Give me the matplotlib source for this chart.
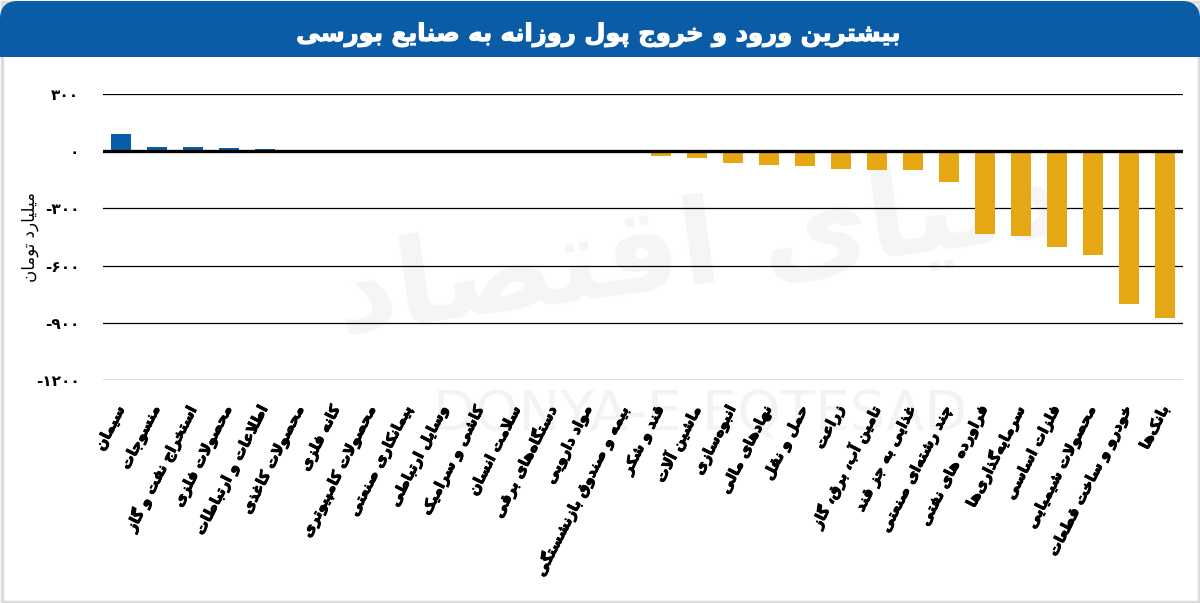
import matplotlib
matplotlib.use("Agg")
import matplotlib.pyplot as plt
import matplotlib.patheffects as pe
from matplotlib.patches import FancyBboxPatch, Rectangle
from matplotlib.transforms import IdentityTransform
from matplotlib.ticker import FuncFormatter, FixedLocator

# data (billion toman)
categories = [
    "سیمان", "منسوجات", "استخراج نفت و گاز", "محصولات فلزی", "اطلاعات و ارتباطات",
    "محصولات کاغذی", "کانه فلزی", "محصولات کامپیوتری", "پیمانکاری صنعتی", "وسایل ارتباطی",
    "کاشی و سرامیک", "سلامت انسان", "دستگاه\u200cهای برقی", "مواد دارویی",
    "بیمه و صندوق بازنشستگی", "قند و شکر", "ماشین آلات", "انبوه\u200cسازی",
    "نهادهای مالی", "حمل و نقل", "زراعت", "تامین آب، برق، گاز", "غذایی به جز قند",
    "چند رشته\u200cای صنعتی", "فراورده های نفتی", "سرمایه\u200cگذاری\u200cها", "فلزات اساسی",
    "محصولات شیمیایی", "خودرو و ساخت قطعات", "بانک\u200cها",
]
values = [
    90, 20, 20, 15, 9, 8, 7, 3, 2, 1,
    1, -1, -1, -2, -3, -23, -35, -60, -72, -77,
    -93, -98, -98, -160, -432, -447, -500, -547, -800, -874,
]
yticks = [300, 0, -300, -600, -900, -1200]

title = "بیشترین ورود و خروج پول روزانه به صنایع بورسی"
ylabel = "میلیارد تومان"

BLUE = "#0A5CA6"
GOLD = "#E6A812"

# --- minimal arabic/persian shaping (matplotlib has no text shaping) ---
DUAL = {'ب': 0xFE8F, 'ت': 0xFE95, 'ث': 0xFE99, 'ج': 0xFE9D, 'ح': 0xFEA1, 'خ': 0xFEA5,
        'س': 0xFEB1, 'ش': 0xFEB5, 'ص': 0xFEB9, 'ض': 0xFEBD, 'ط': 0xFEC1, 'ظ': 0xFEC5,
        'ع': 0xFEC9, 'غ': 0xFECD, 'ف': 0xFED1, 'ق': 0xFED5, 'ل': 0xFEDD, 'م': 0xFEE1,
        'ن': 0xFEE5, 'ه': 0xFEE9, 'ی': 0xFBFC, 'ي': 0xFEF1, 'پ': 0xFB56, 'چ': 0xFB7A,
        'ک': 0xFB8E, 'گ': 0xFB92}
RIGHT = {'ا': 0xFE8D, 'آ': 0xFE81, 'د': 0xFEA9, 'ذ': 0xFEAB, 'ر': 0xFEAD, 'ز': 0xFEAF,
         'و': 0xFEED, 'ژ': 0xFB8A}
LAMALEF = {'ا': 0xFEFB, 'آ': 0xFEF5}


def shape(text):
    out = []
    i, n = 0, len(text)
    while i < n:
        c = text[i]
        prev = text[i - 1] if i > 0 else ''
        nxt = text[i + 1] if i + 1 < n else ''
        if c == '\u200c':
            i += 1
            continue
        jp = prev in DUAL
        if c == 'ل' and nxt in LAMALEF:
            out.append(chr(LAMALEF[nxt] + (1 if jp else 0)))
            i += 2
            continue
        if c in DUAL:
            jn = nxt in DUAL or nxt in RIGHT
            off = {(False, False): 0, (True, False): 1, (False, True): 2, (True, True): 3}[(jp, jn)]
            out.append(chr(DUAL[c] + off))
        elif c in RIGHT:
            out.append(chr(RIGHT[c] + (1 if jp else 0)))
        else:
            out.append(c)
        i += 1
    return ''.join(reversed(out))


FA_DIGITS = str.maketrans("0123456789", "۰۱۲۳۴۵۶۷۸۹")


def fa_num(v, pos=None):
    return str(int(v)).translate(FA_DIGITS)


plt.rcParams['font.family'] = ['DejaVu Sans']

W, H = 1200, 603
fig = plt.figure(figsize=(W / 100, H / 100), dpi=100)
px = IdentityTransform()
heavy = [pe.withStroke(linewidth=0.7, foreground="black")]

# frame + title banner
fig.patches.append(Rectangle((1.5, 1.5), W - 3, H - 3, transform=px, fill=False,
                             edgecolor="#DCDCDC", lw=2.5, zorder=0))
fig.patches.append(FancyBboxPatch((0, H - 57), W, 56, boxstyle="round,pad=0,rounding_size=18",
                                  transform=px, facecolor=BLUE, edgecolor="none", zorder=1))
fig.patches.append(Rectangle((0, H - 57), W, 25, transform=px, facecolor=BLUE,
                             edgecolor="none", zorder=1))
fig.text(598, H - 35, shape(title), transform=px, ha="center", va="center",
         color="white", fontsize=17.5, fontweight="bold", zorder=2,
         path_effects=[pe.withStroke(linewidth=0.8, foreground="white")])

# faint watermark, kept behind the chart
fig.text(700, H - 415, "DONYA-E-EQTESAD", transform=px, ha="center", va="center",
         fontsize=40, color="#F3F3F3", zorder=0.2)
fig.text(700, H - 250, shape("دنیای اقتصاد"), transform=px, ha="center", va="center",
         fontsize=85, color="#F5F5F5", fontweight="bold", rotation=8, zorder=0.2)

ax = fig.add_axes([103 / W, 1 - 380 / H, 1080 / W, 286 / H])
ax.set_zorder(1)
ax.set_facecolor("none")
x = list(range(len(categories)))
colors = [BLUE if v >= 0 else GOLD for v in values]
ax.bar(x, values, width=0.55, color=colors, zorder=3)

ax.set_xlim(-0.5, len(categories) - 0.5)
ax.set_ylim(-1200, 300)
ax.yaxis.set_major_locator(FixedLocator(yticks))
ax.yaxis.set_major_formatter(FuncFormatter(fa_num))
for t in yticks:
    ax.axhline(t, color="black", lw=0.9, zorder=2)
ax.axhline(0, color="black", lw=2.4, zorder=4)
for s in ax.spines.values():
    s.set_visible(False)
ax.tick_params(axis="y", length=0, pad=17, labelsize=11)
for lab in ax.get_yticklabels():
    lab.set_fontweight("bold")

ax.set_xticks(x)
ax.set_xticklabels([shape(c) for c in categories], rotation=63, ha="right",
                   va="center", rotation_mode="anchor", fontsize=10.5, fontweight="bold")
for lab in ax.get_xticklabels():
    lab.set_path_effects(heavy)
ax.tick_params(axis="x", length=0, pad=19)

ax.set_ylabel(shape(ylabel), fontsize=12)
ax.yaxis.set_label_coords(-64 / 1080, (380 - 237) / 286)

fig.savefig("out.png", dpi=100)
